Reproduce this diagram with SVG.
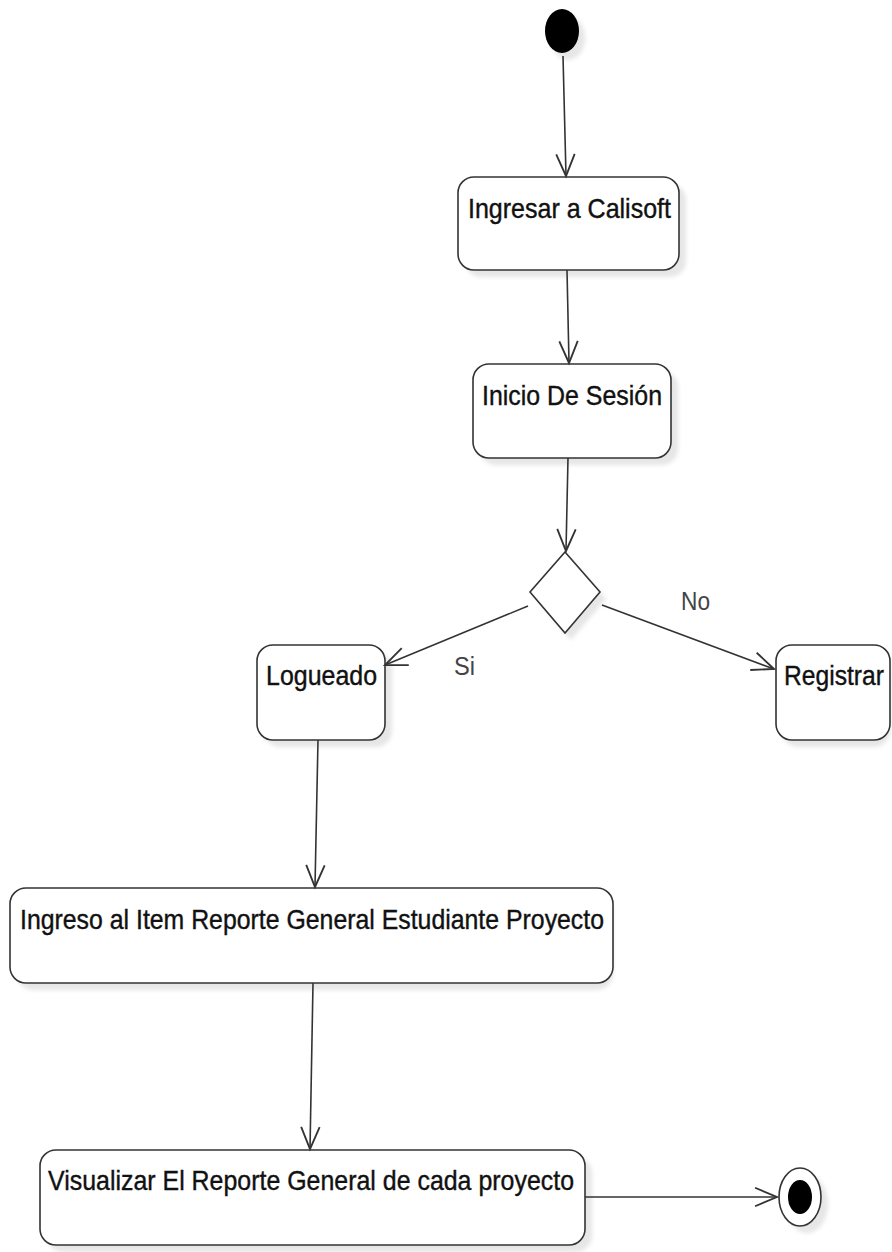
<svg xmlns="http://www.w3.org/2000/svg" width="892" height="1252" viewBox="0 0 892 1252">
<style>
.box{fill:#fff;stroke:#333;stroke-width:1.6}
.sh{fill:#e6e6e6;filter:url(#blur)}
.lbl{font-family:"Liberation Sans",Arial,sans-serif;font-size:28px;fill:#111;stroke:#111;stroke-width:0.4}
.glbl{font-family:"Liberation Sans",Arial,sans-serif;font-size:25px;fill:#444}
.edge{fill:none;stroke:#333;stroke-width:1.6}
</style>
<defs>
<filter id="blur" x="-20%" y="-20%" width="140%" height="140%"><feGaussianBlur stdDeviation="2"/></filter>
<marker id="arr" markerUnits="userSpaceOnUse" markerWidth="30" markerHeight="30" viewBox="-22 -11 26 22" refX="0" refY="0" orient="auto">
<path d="M-19,-8 L0,0 L-19,8" fill="none" stroke="#333" stroke-width="1.6"/>
</marker>
</defs>
<rect width="892" height="1252" fill="#fff"/>

<g id="start">
<ellipse class="sh" cx="568" cy="38" rx="17" ry="22"/>
<ellipse cx="562" cy="31" rx="17" ry="22" fill="#000"/>
</g>

<g id="n1">
<rect class="sh" x="465" y="184" width="221" height="93" rx="16"/>
<rect class="box" x="458" y="177" width="221" height="93" rx="16"/>
<text class="lbl" x="468" y="218" textLength="203" lengthAdjust="spacingAndGlyphs">Ingresar a Calisoft</text>
</g>

<g id="n2">
<rect class="sh" x="480" y="371" width="198" height="94" rx="16"/>
<rect class="box" x="473" y="364" width="198" height="94" rx="16"/>
<text class="lbl" x="482" y="405" textLength="180" lengthAdjust="spacingAndGlyphs">Inicio De Sesión</text>
</g>

<g id="decision">
<path class="sh" d="M571,559 L606,599 L571,640 L537,599 Z"/>
<path class="box" d="M565,552 L600,592 L565,633 L530,592 Z"/>
</g>

<g id="n3">
<rect class="sh" x="264" y="652" width="128" height="95" rx="16"/>
<rect class="box" x="257" y="645" width="128" height="95" rx="16"/>
<text class="lbl" x="266" y="685" textLength="111" lengthAdjust="spacingAndGlyphs">Logueado</text>
</g>

<g id="n4">
<rect class="sh" x="782" y="652" width="108" height="95" rx="16"/>
<rect class="box" x="776" y="645" width="114" height="95" rx="16"/>
<text class="lbl" transform="translate(784,685) scale(0.88,1)" x="0" y="0">Registrar</text>
</g>

<g id="n5">
<rect class="sh" x="17" y="895" width="596" height="95" rx="16"/>
<rect class="box" x="10" y="888" width="603" height="95" rx="16"/>
<text class="lbl" x="20" y="929" textLength="584" lengthAdjust="spacingAndGlyphs">Ingreso al Item Reporte General Estudiante Proyecto</text>
</g>

<g id="n6">
<rect class="sh" x="47" y="1157" width="545" height="95" rx="16"/>
<rect class="box" x="40" y="1150" width="545" height="95" rx="16"/>
<text class="lbl" x="48" y="1190" textLength="526" lengthAdjust="spacingAndGlyphs">Visualizar El Reporte General de cada proyecto</text>
</g>

<g id="end">
<ellipse class="sh" cx="807" cy="1204" rx="21" ry="29"/>
<ellipse cx="800" cy="1197" rx="21" ry="29" fill="#fff" stroke="#333" stroke-width="1.6"/>
<ellipse cx="800" cy="1197" rx="12" ry="17" fill="#000"/>
</g>

<g id="connectors">
<line class="edge" x1="563" y1="56" x2="566" y2="176" marker-end="url(#arr)"/>
<line class="edge" x1="567" y1="270" x2="569" y2="363" marker-end="url(#arr)"/>
<line class="edge" x1="568" y1="458" x2="566" y2="551" marker-end="url(#arr)"/>
<line class="edge" x1="528" y1="606" x2="385" y2="665" marker-end="url(#arr)"/>
<line class="edge" x1="602" y1="605" x2="774" y2="669" marker-end="url(#arr)"/>
<line class="edge" x1="318" y1="740" x2="315" y2="887" marker-end="url(#arr)"/>
<line class="edge" x1="313" y1="983" x2="310" y2="1149" marker-end="url(#arr)"/>
<line class="edge" x1="585" y1="1197" x2="777" y2="1197" marker-end="url(#arr)" stroke-width="2.2"/>
<text class="glbl" x="454" y="675" textLength="21" lengthAdjust="spacingAndGlyphs">Si</text>
<text class="glbl" x="681" y="610" textLength="29" lengthAdjust="spacingAndGlyphs">No</text>
</g>
</svg>
